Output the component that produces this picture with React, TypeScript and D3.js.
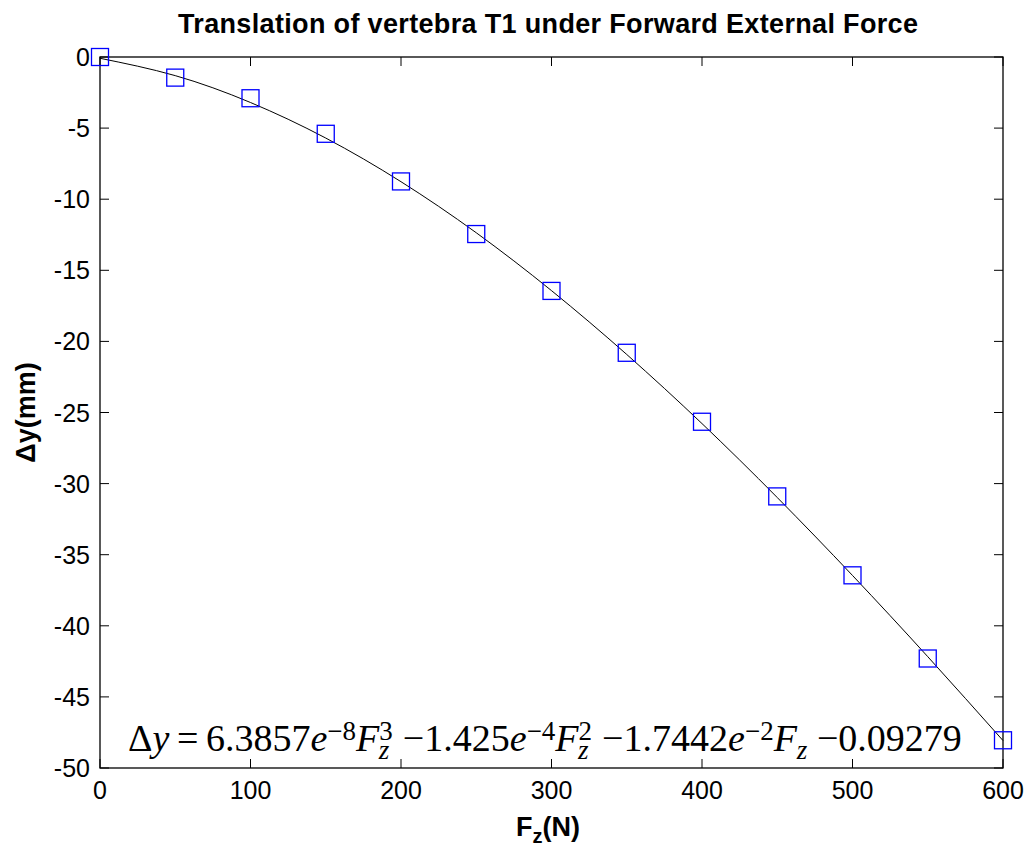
import * as d3 from "d3"

// force applied (N) and measured T1 translation (mm)
const forces = [0, 50, 100, 150, 200, 250, 300, 350, 400, 450, 500, 550, 600]
const deltaY = [0, -1.45, -2.9, -5.4, -8.75, -12.45, -16.45, -20.8, -25.65, -30.9, -36.45, -42.3, -48.05]
// fitted curve as read at the same forces
const fitY = [-0.09, -1.31, -3.2, -5.7, -8.77, -12.36, -16.43, -20.92, -25.78, -30.98, -36.46, -42.17, -48.07]

const xTicks = [0, 100, 200, 300, 400, 500, 600]
const yTicks = [0, -5, -10, -15, -20, -25, -30, -35, -40, -45, -50]

const title = "Translation of vertebra T1 under Forward External Force"

interface EqPart {
  t: string
  italic?: boolean
  pos?: "sup" | "sub"
  dx?: number
}

// fitted polynomial, written out as text
const equation: EqPart[] = [
  { t: "Δ" },
  { t: "y", italic: true },
  { t: "\u2009=\u2009" },
  { t: "6.3857" },
  { t: "e", italic: true },
  { t: "−8", pos: "sup" },
  { t: "F", italic: true },
  { t: "3", pos: "sup" },
  { t: "z", italic: true, pos: "sub", dx: -14 },
  { t: " −1.425", dx: 4 },
  { t: "e", italic: true },
  { t: "−4", pos: "sup" },
  { t: "F", italic: true },
  { t: "2", pos: "sup" },
  { t: "z", italic: true, pos: "sub", dx: -14 },
  { t: " −1.7442", dx: 4 },
  { t: "e", italic: true },
  { t: "−2", pos: "sup" },
  { t: "F", italic: true },
  { t: "z", italic: true, pos: "sub" },
  { t: " −0.09279" },
]

const W = 1028
const H = 846
const margin = { top: 57, right: 25, bottom: 78, left: 100 }

const sans = "'Liberation Sans', Arial, Helvetica, sans-serif"
const serif = "'Liberation Serif', 'Times New Roman', serif"

export default function App() {
  const x = d3.scaleLinear().domain([0, 600]).range([margin.left, W - margin.right])
  const y = d3.scaleLinear().domain([-50, 0]).range([H - margin.bottom, margin.top])

  const pts = forces.map((f, i) => [f, deltaY[i]] as [number, number])
  const fitPts = forces.map((f, i) => [f, fitY[i]] as [number, number])
  const fitLine = d3
    .line<[number, number]>()
    .x((d) => x(d[0]))
    .y((d) => y(d[1]))
    .curve(d3.curveNatural)

  const x0 = x(0)
  const x1 = x(600)
  const y0 = y(0)
  const y1 = y(-50)
  const tick = 9
  const mk = 17

  // tspans for the equation, shifting baseline for scripts
  const shifts = { sup: -11, sub: 8 }
  let cur = 0
  const eqSpans = equation.map((p, i) => {
    const target = p.pos ? shifts[p.pos] : 0
    const dy = target - cur
    cur = target
    return (
      <tspan
        key={i}
        dy={dy}
        dx={p.dx ?? 0}
        fontStyle={p.italic ? "italic" : "normal"}
        fontSize={p.pos ? 27 : 38}
      >
        {p.t}
      </tspan>
    )
  })

  return (
    <svg
      width={W}
      height={H}
      style={{ position: "absolute", left: 0, top: 0, background: "#fff" }}
    >
      <rect width={W} height={H} fill="#fff" />

      {/* title */}
      <text
        x={548}
        y={33}
        textAnchor="middle"
        fontFamily={sans}
        fontWeight="bold"
        fontSize={27}
        textLength={740}
        lengthAdjust="spacing"
      >
        {title}
      </text>

      {/* axes box */}
      <rect x={x0} y={y0} width={x1 - x0} height={y1 - y0} fill="none" stroke="#000" strokeWidth={1.3} />

      {/* x ticks */}
      {xTicks.map((t) => (
        <g key={"x" + t}>
          <line x1={x(t)} x2={x(t)} y1={y1} y2={y1 - tick} stroke="#000" />
          <line x1={x(t)} x2={x(t)} y1={y0} y2={y0 + tick} stroke="#000" />
          <text x={x(t)} y={799} textAnchor="middle" fontFamily={sans} fontSize={25}>
            {t}
          </text>
        </g>
      ))}

      {/* y ticks */}
      {yTicks.map((t) => (
        <g key={"y" + t}>
          <line x1={x0} x2={x0 + tick} y1={y(t)} y2={y(t)} stroke="#000" />
          <line x1={x1} x2={x1 - tick} y1={y(t)} y2={y(t)} stroke="#000" />
          <text x={90} y={y(t) + 9} textAnchor="end" fontFamily={sans} fontSize={25}>
            {t}
          </text>
        </g>
      ))}

      {/* fit curve */}
      <path d={fitLine(fitPts) ?? ""} fill="none" stroke="#000" strokeWidth={1} />

      {/* data markers */}
      {pts.map((d, i) => (
        <rect
          key={i}
          x={x(d[0]) - mk / 2}
          y={y(d[1]) - mk / 2}
          width={mk}
          height={mk}
          fill="none"
          stroke="#0000ff"
          strokeWidth={1.3}
        />
      ))}

      {/* equation */}
      <text x={128} y={751} fontFamily={serif} fontSize={38}>
        {eqSpans}
      </text>

      {/* axis labels */}
      <text x={548} y={836} textAnchor="middle" fontFamily={sans} fontWeight="bold" fontSize={27}>
        F
        <tspan dy={7} fontSize={20}>
          z
        </tspan>
        <tspan dy={-7}>(N)</tspan>
      </text>
      <text
        transform={`translate(35,${(y0 + y1) / 2}) rotate(-90)`}
        textAnchor="middle"
        fontFamily={sans}
        fontWeight="bold"
        fontSize={27}
      >
        Δy(mm)
      </text>
    </svg>
  )
}
